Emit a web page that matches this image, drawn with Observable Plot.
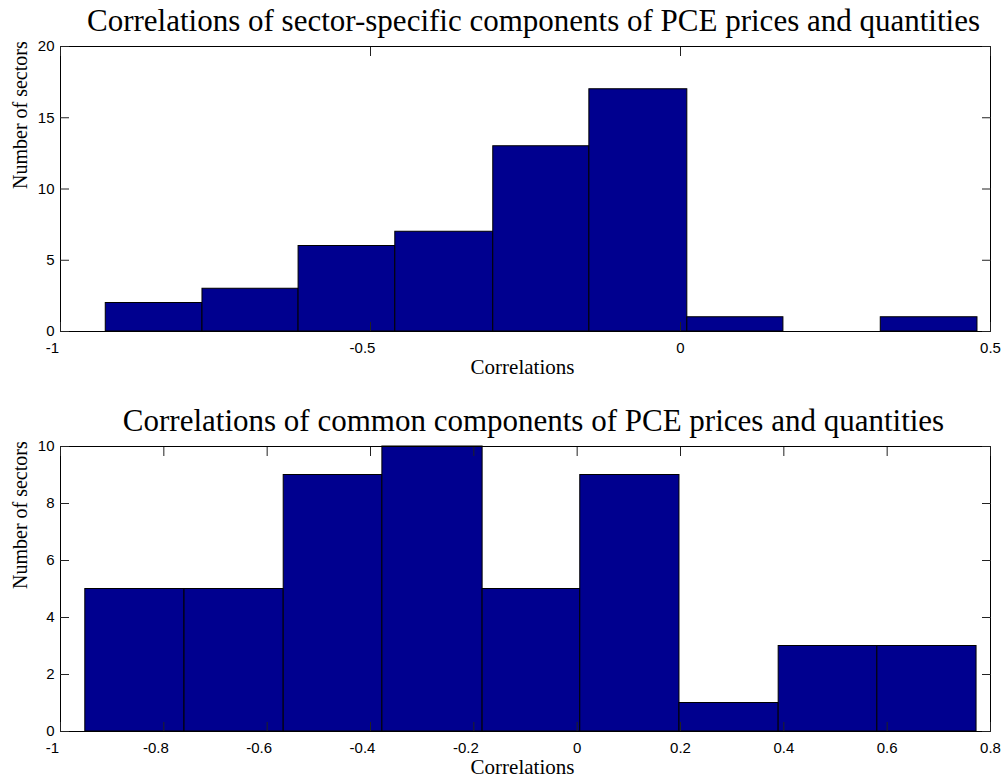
<!DOCTYPE html>
<html>
<head>
<meta charset="utf-8">
<script src="https://cdn.jsdelivr.net/npm/d3@7"></script>
<script src="https://cdn.jsdelivr.net/npm/@observablehq/plot@0.6"></script>
<style>
  body { margin: 0; background: #fff; }
  #wrap { position: relative; width: 1007px; height: 778px; background: #fff; }
  #wrap svg { position: absolute; left: 0; }
</style>
</head>
<body>
<div id="wrap"></div>
<script>
// ---- Data ----
const topTitle = "Correlations of sector-specific components of PCE prices and quantities";
const topEdges = [-0.927, -0.771, -0.616, -0.460, -0.302, -0.147, 0.011, 0.166, 0.323, 0.479];
const topCounts = [2, 3, 6, 7, 13, 17, 1, 0, 1];
const topXTicks = [-1, -0.5, 0, 0.5];
const topYTicks = [0, 5, 10, 15, 20];

const bottomTitle = "Correlations of common components of PCE prices and quantities";
const bottomEdges = [-0.952, -0.760, -0.568, -0.377, -0.183, 0.006, 0.198, 0.390, 0.581, 0.773];
const bottomCounts = [5, 5, 9, 10, 5, 9, 1, 3, 3];
const bottomXTicks = [-1, -0.8, -0.6, -0.4, -0.2, 0, 0.2, 0.4, 0.6, 0.8];
const bottomYTicks = [0, 2, 4, 6, 8, 10];

const xLabel = "Correlations";
const yLabel = "Number of sectors";

const serif = "'Liberation Serif', 'Times New Roman', Times, serif";
const sans = "'Liberation Sans', Arial, Helvetica, sans-serif";
const barFill = "#00008f";

function hist({title, edges, counts, xTicks, yTicks, height, top}) {
  const bins = counts.map((c, i) => ({x1: edges[i], x2: edges[i + 1], n: c}));
  const neg = xTicks.filter(t => t < 0);
  const pos = xTicks.filter(t => t >= 0);
  const plotH = 285;
  const fmt = d => String(+(+d).toFixed(2)); // plain hyphen-minus like the reference
  const svg = Plot.plot({
    width: 1007,
    height,
    marginLeft: 60,
    marginRight: 17,
    marginTop: 46,
    marginBottom: height - 46 - plotH,
    style: {background: "white", color: "black", fontFamily: sans, fontSize: "15px"},
    x: {domain: [xTicks[0], xTicks[xTicks.length - 1]], label: null},
    y: {domain: [yTicks[0], yTicks[yTicks.length - 1]], label: null},
    marks: [
      Plot.rectY(bins, {x1: "x1", x2: "x2", y1: 0, y2: "n", fill: barFill, stroke: "black", strokeWidth: 1}),
      Plot.frame({stroke: "black", strokeWidth: 1}),
      // inward ticks on all four sides
      Plot.axisX({ticks: xTicks, anchor: "bottom", tickSize: 9, dy: -9, tickFormat: () => "", label: null, stroke: "#222"}),
      Plot.axisX({ticks: xTicks, anchor: "top", tickSize: 9, dy: 9, tickFormat: () => "", label: null, stroke: "#222"}),
      Plot.axisY({ticks: yTicks, anchor: "left", tickSize: 9, dx: 9, tickFormat: () => "", label: null, stroke: "#222"}),
      Plot.axisY({ticks: yTicks, anchor: "right", tickSize: 9, dx: -9, tickFormat: () => "", label: null, stroke: "#222"}),
      // tick labels
      Plot.axisX({ticks: neg, anchor: "bottom", tickSize: 0, tickPadding: 11, dx: -8, tickFormat: fmt, label: null, fontSize: 15}),
      Plot.axisX({ticks: pos, anchor: "bottom", tickSize: 0, tickPadding: 11, tickFormat: fmt, label: null, fontSize: 15}),
      Plot.axisY({ticks: yTicks, anchor: "left", tickSize: 0, tickPadding: 6, tickFormat: fmt, label: null, fontSize: 15}),
      // titles and axis labels
      Plot.text([title], {text: d => d, frameAnchor: "top", dy: -16, dx: 8, lineAnchor: "bottom", fontFamily: serif, fontSize: 31, fill: "black"}),
      Plot.text([xLabel], {text: d => d, frameAnchor: "bottom", dy: 36, dx: -3, lineAnchor: "middle", fontFamily: serif, fontSize: 21, fill: "black"}),
      Plot.text([yLabel], {text: d => d, frameAnchor: "left", rotate: -90, dx: -40, lineAnchor: "middle", fontFamily: serif, fontSize: 20, fill: "black"})
    ]
  });
  svg.style.top = top + "px";
  return svg;
}

const wrap = document.getElementById("wrap");
wrap.appendChild(hist({title: topTitle, edges: topEdges, counts: topCounts, xTicks: topXTicks, yTicks: topYTicks, height: 390, top: 0}));
wrap.appendChild(hist({title: bottomTitle, edges: bottomEdges, counts: bottomCounts, xTicks: bottomXTicks, yTicks: bottomYTicks, height: 378, top: 400}));
</script>
</body>
</html>
